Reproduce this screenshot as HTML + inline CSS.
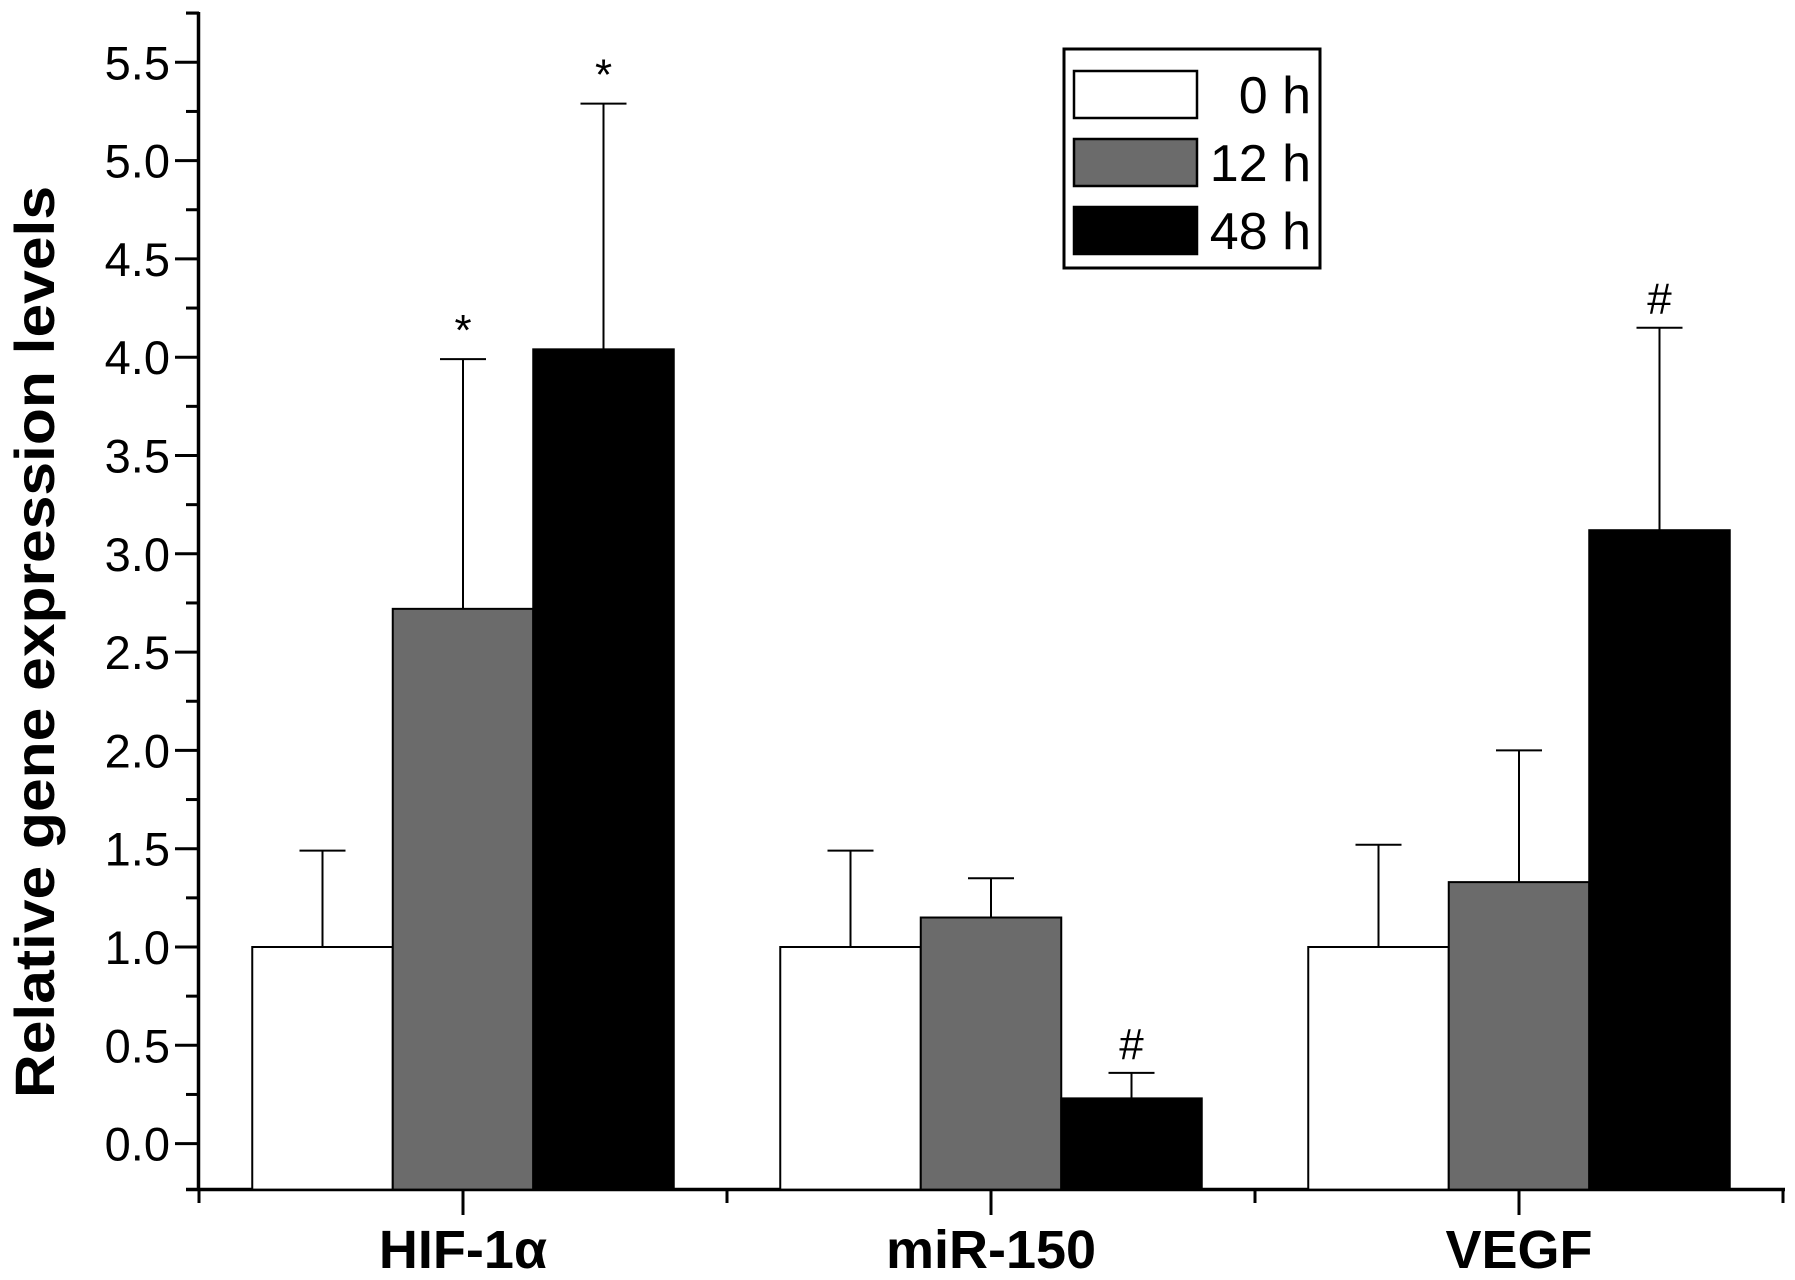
<!DOCTYPE html>
<html><head><meta charset="utf-8"><style>
html,body{margin:0;padding:0;background:#fff}
svg{display:block;font-family:"Liberation Sans",Arial,sans-serif}
</style></head><body>
<svg id="chart" width="1795" height="1280" viewBox="0 0 1795 1280" xmlns="http://www.w3.org/2000/svg">
<g id="axes"></g>
<g id="bars"></g>
<g id="legend">
  <rect x="1064" y="49" width="256" height="219" fill="#fff" stroke="#000" stroke-width="3"/>
  <rect x="1074" y="71" width="123" height="47" fill="#fff" stroke="#000" stroke-width="2.5"/>
  <rect x="1074" y="139" width="123" height="47" fill="#6b6b6b" stroke="#000" stroke-width="2.5"/>
  <rect x="1074" y="207" width="123" height="47" fill="#000" stroke="#000" stroke-width="2.5"/>
  <text x="1311" y="113" font-size="52" text-anchor="end">0 h</text>
  <text x="1311" y="181" font-size="52" text-anchor="end">12 h</text>
  <text x="1311" y="249" font-size="52" text-anchor="end">48 h</text>
</g>
<text transform="translate(54,642) rotate(-90)" font-size="56" font-weight="bold" text-anchor="middle" textLength="912" lengthAdjust="spacingAndGlyphs">Relative gene expression levels</text>
</svg>
<script>
const categories = ["HIF-1α", "miR-150", "VEGF"];
const series = ["0 h", "12 h", "48 h"];
const values0h = [1.0, 1.0, 1.0];
const values12h = [2.72, 1.15, 1.33];
const values48h = [4.04, 0.23, 3.12];
const errTop0h = [1.49, 1.49, 1.52];
const errTop12h = [3.99, 1.35, 2.0];
const errTop48h = [5.29, 0.36, 4.15];
const marks12h = ["*", "", ""];
const marks48h = ["*", "#", "#"];
const yTicks = ["0.0","0.5","1.0","1.5","2.0","2.5","3.0","3.5","4.0","4.5","5.0","5.5"];

const NS = "http://www.w3.org/2000/svg";
const fills = ["#fff", "#6b6b6b", "#000"];
const Y0 = 1143.6, PXU = 196.6;
function y(v){ return Y0 - v * PXU; }
const X0 = 199, GW = 528;
function xc(i){ return X0 + GW * (i + 0.5); }
const BW = 140.5;
function el(tag, attrs, parent){
  const e = document.createElementNS(NS, tag);
  for (const k in attrs) e.setAttribute(k, attrs[k]);
  parent.appendChild(e); return e;
}
const axes = document.getElementById('axes');
const bars = document.getElementById('bars');

const vals = [values0h, values12h, values48h];
const errs = [errTop0h, errTop12h, errTop48h];
const marks = [null, marks12h, marks48h];
categories.forEach((c, i) => {
  for (let s = 0; s < 3; s++) {
    const x = xc(i) - 1.5 * BW + s * BW;
    const cx = x + BW / 2;
    const ln = el('line', {x1: cx, x2: cx, y1: y(vals[s][i]), y2: y(errs[s][i]), stroke: '#000', 'stroke-width': 2}, bars);
    
    
    const cap = el('line', {x1: cx - 23, x2: cx + 23, y1: y(errs[s][i]), y2: y(errs[s][i]), stroke: '#000', 'stroke-width': 2}, bars);
    
    
    const r = el('rect', {x: x, y: y(vals[s][i]), width: BW, height: y(0) + 46 - y(vals[s][i]), fill: fills[s], stroke: '#000', 'stroke-width': 2}, bars);
    
    
    if (marks[s] && marks[s][i]) {
      const t = el('text', {x: cx, y: y(errs[s][i]) - 14, 'font-size': 44, 'text-anchor': 'middle'}, bars);
      t.textContent = marks[s][i];
      
      
    }
  }
  const lab = el('text', {x: xc(i), y: 1268, 'font-size': 54, 'font-weight': 'bold', 'text-anchor': 'middle'}, axes);
  lab.textContent = c;
  
  
  const tk = el('line', {x1: xc(i), x2: xc(i), y1: 1189, y2: 1215, stroke: '#000', 'stroke-width': 3}, axes);
  
  
});
for (let k = 0; k <= categories.length; k++) {
  const mx = X0 + GW * k;
  const t = el('line', {x1: mx, x2: mx, y1: 1189, y2: 1203, stroke: '#000', 'stroke-width': 3}, axes);
  
  
}
const yax = el('line', {x1: 198.5, x2: 198.5, y1: 12, y2: 1190, stroke: '#000', 'stroke-width': 3.5}, axes);


const xax = el('line', {x1: 186, x2: 1785, y1: 1189.5, y2: 1189.5, stroke: '#000', 'stroke-width': 3.5}, axes);


const ytop = el('line', {x1: 186, x2: 199, y1: 13, y2: 13, stroke: '#000', 'stroke-width': 3}, axes);


yTicks.forEach((lbl) => {
  const v = parseFloat(lbl);
  const t = el('line', {x1: 175, x2: 199, y1: y(v), y2: y(v), stroke: '#000', 'stroke-width': 3}, axes);
  
  
  const m = el('line', {x1: 186, x2: 199, y1: y(v + 0.25), y2: y(v + 0.25), stroke: '#000', 'stroke-width': 3}, axes);
  
  
  const tx = el('text', {x: 170, y: y(v) + 17, 'font-size': 47, 'text-anchor': 'end'}, axes);
  tx.textContent = lbl;
  
  
});
</script>
</body></html>
